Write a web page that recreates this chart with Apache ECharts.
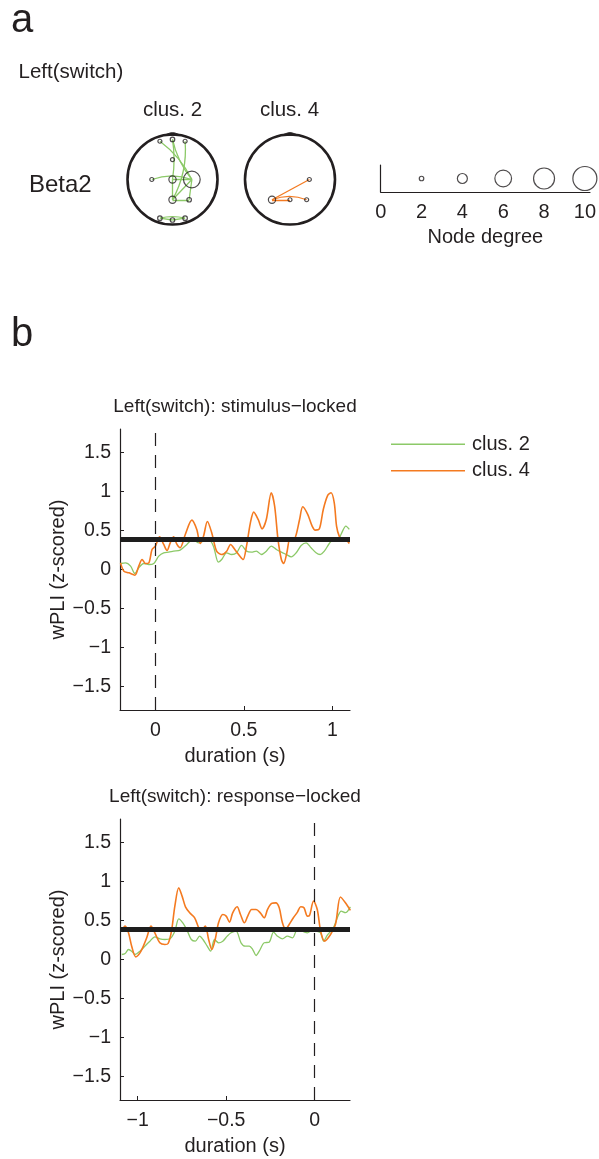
<!DOCTYPE html>
<html>
<head>
<meta charset="utf-8">
<script src="https://cdn.jsdelivr.net/npm/echarts@6/dist/echarts.min.js"></script>
<style>
html,body{margin:0;padding:0;background:#fff;}
#chart{width:599px;height:1159px;}
</style>
</head>
<body>
<div id="chart"></div>
<script>
// ---------------- DATA ----------------
const seriesNames = ['clus. 2', 'clus. 4'];
const threshold = 0.385;

// stimulus-locked: [time (s), wPLI z]
const stimClus2 = [[-0.197,0.077],[-0.169,0.085],[-0.140,0.043],[-0.116,-0.051],[-0.094,0.021],[-0.066,0.077],[-0.037,0.064],[-0.009,0.077],[0.019,0.171],[0.047,0.214],[0.075,0.222],[0.103,0.235],[0.140,0.248],[0.178,0.321],[0.215,0.393],[0.243,0.342],[0.272,0.363],[0.300,0.385],[0.328,0.299],[0.356,0.094],[0.375,0.128],[0.403,0.214],[0.431,0.192],[0.459,0.214],[0.487,0.308],[0.515,0.235],[0.543,0.222],[0.571,0.235],[0.599,0.192],[0.627,0.235],[0.655,0.299],[0.684,0.256],[0.712,0.222],[0.740,0.192],[0.768,0.162],[0.796,0.214],[0.824,0.308],[0.852,0.342],[0.880,0.278],[0.908,0.214],[0.931,0.192],[0.955,0.235],[0.983,0.333],[1.011,0.393],[1.030,0.363],[1.049,0.449],[1.077,0.556],[1.096,0.513]];
const stimClus4 = [[-0.197,0.085],[-0.178,-0.021],[-0.150,-0.043],[-0.116,-0.073],[-0.094,0.043],[-0.075,0.128],[-0.056,0.077],[-0.037,0.085],[-0.019,0.256],[0,0.299],[0.024,0.419],[0.047,0.321],[0.066,0.244],[0.084,0.342],[0.103,0.419],[0.122,0.321],[0.140,0.278],[0.169,0.449],[0.206,0.632],[0.234,0.513],[0.253,0.333],[0.272,0.427],[0.294,0.615],[0.318,0.474],[0.346,0.235],[0.375,0.192],[0.403,0.235],[0.425,0.321],[0.449,0.256],[0.478,0.171],[0.496,0.128],[0.515,0.299],[0.537,0.598],[0.556,0.735],[0.581,0.641],[0.603,0.521],[0.627,0.641],[0.655,0.983],[0.674,0.812],[0.693,0.385],[0.712,0.128],[0.725,0.077],[0.743,0.214],[0.762,0.406],[0.781,0.376],[0.796,0.449],[0.815,0.641],[0.833,0.803],[0.861,0.705],[0.886,0.556],[0.904,0.504],[0.927,0.521],[0.949,0.769],[0.974,0.949],[0.993,0.983],[1.011,0.855],[1.024,0.556],[1.039,0.427],[1.058,0.363],[1.077,0.376],[1.096,0.333]];

// response-locked: [time (s), wPLI z]
const respClus2 = [[-1.090,0.064],[-1.071,0.077],[-1.052,0.128],[-1.034,0.107],[-1.015,0.064],[-0.987,0.107],[-0.959,0.171],[-0.931,0.235],[-0.903,0.291],[-0.875,0.265],[-0.846,0.256],[-0.818,0.265],[-0.790,0.363],[-0.768,0.521],[-0.743,0.462],[-0.719,0.363],[-0.697,0.256],[-0.674,0.235],[-0.650,0.299],[-0.631,0.256],[-0.607,0.171],[-0.588,0.107],[-0.566,0.256],[-0.543,0.214],[-0.519,0.235],[-0.494,0.299],[-0.472,0.342],[-0.444,0.363],[-0.416,0.214],[-0.393,0.171],[-0.369,0.171],[-0.350,0.128],[-0.331,0.051],[-0.313,0.107],[-0.285,0.214],[-0.257,0.222],[-0.232,0.350],[-0.210,0.299],[-0.182,0.265],[-0.154,0.299],[-0.125,0.278],[-0.094,0.406],[-0.069,0.363],[-0.041,0.342],[-0.013,0.376],[0.015,0.360],[0.034,0.340],[0.051,0.235],[0.071,0.310],[0.090,0.360],[0.109,0.420],[0.131,0.550],[0.150,0.620],[0.174,0.600],[0.202,0.675]];
const respClus4 = [[-1.090,0.363],[-1.071,0.427],[-1.052,0.342],[-1.034,0.171],[-1.011,0.034],[-0.987,0.085],[-0.968,0.171],[-0.949,0.278],[-0.925,0.427],[-0.903,0.342],[-0.875,0.214],[-0.846,0.192],[-0.828,0.205],[-0.809,0.363],[-0.790,0.684],[-0.768,0.919],[-0.749,0.812],[-0.730,0.675],[-0.706,0.598],[-0.678,0.534],[-0.655,0.406],[-0.640,0.376],[-0.618,0.427],[-0.599,0.256],[-0.581,0.128],[-0.562,0.256],[-0.543,0.470],[-0.519,0.577],[-0.500,0.556],[-0.481,0.479],[-0.463,0.598],[-0.438,0.675],[-0.419,0.577],[-0.397,0.470],[-0.378,0.556],[-0.356,0.641],[-0.331,0.641],[-0.307,0.598],[-0.285,0.534],[-0.266,0.641],[-0.243,0.718],[-0.219,0.726],[-0.200,0.662],[-0.182,0.470],[-0.163,0.385],[-0.144,0.449],[-0.120,0.534],[-0.097,0.607],[-0.079,0.675],[-0.060,0.662],[-0.041,0.556],[-0.030,0.560],[-0.006,0.750],[0.015,0.640],[0.034,0.363],[0.056,0.235],[0.090,0.320],[0.118,0.450],[0.146,0.800],[0.174,0.727],[0.202,0.630]];

// tick labels
const stimXTicks = [0, 0.5, 1];
const respXTicks = [-1, -0.5, 0];
const yTicks = [-1.5, -1, -0.5, 0, 0.5, 1, 1.5];
const degreeTicks = [0, 2, 4, 6, 8, 10];
const legendDegrees = [2, 4, 6, 8, 10];

// electrode montage (unit head, nose up)
const electrodes = {
  Fp1:[-0.28,0.85], Fpz:[0,0.89], Fp2:[0.28,0.85], Fz:[0,0.44],
  C3:[-0.46,0], Cz:[0,0], C4:[0.43,0],
  P3:[-0.40,-0.45], Pz:[0,-0.45], P4:[0.37,-0.45],
  O1:[-0.28,-0.86], Oz:[0,-0.90], O2:[0.28,-0.86]
};
// node degrees per cluster
const clus2Degree = {Fp1:1, Fpz:2, Fp2:1, Fz:1, C3:1, Cz:3, C4:6, Pz:3, P4:2, O1:2, Oz:2, O2:2};
const clus4Degree = {P3:3, Pz:1, P4:1, C4:1};
// edges
const clus2Edges = [['Fp1','C4'],['Fpz','C4'],['Fp2','Pz'],['Fpz','Cz'],['C3','C4'],['Cz','C4'],['Pz','C4'],['Pz','P4'],['P4','C4'],['Cz','Pz'],['O1','O2'],['O1','Oz'],['Oz','O2']];
const clus4Edges = [['P3','C4'],['P3','Pz'],['P3','P4']];

// ---------------- STYLE ----------------
const FONT = '"Liberation Sans", Arial, Helvetica, sans-serif';
const TXT = '#231f20';
const GREEN = '#8cc968';
const ORANGE = '#f47a20';
const edgeCurve = {'Fp1-C4':0.12,'Fpz-C4':-0.12,'Fp2-Pz':0.15,'Fpz-Cz':0.08,'C3-C4':0.18,'O1-O2':0.12,'P3-P4':0.2};

function degreeToSize(d){
  const dk=[0,1,2,4,6,8,10], px=[0,4,4.5,10,16.7,21,24];
  for(let i=1;i<dk.length;i++){ if(d<=dk[i]){ const t=(d-dk[i-1])/(dk[i]-dk[i-1]); return px[i-1]+t*(px[i]-px[i-1]); } }
  return px[px.length-1];
}
const fmt = v => String(v).replace('-', '\u2212');

function mainX(gi, min, max, ticks){
  return {
    type:'value', gridIndex:gi, min, max,
    axisLine:{show:true, onZero:false, lineStyle:{color:TXT, width:1.2}},
    axisTick:{show:true, inside:true, length:4, customValues:ticks, lineStyle:{color:TXT}},
    axisLabel:{customValues:ticks, formatter:fmt, fontSize:19.5, fontFamily:FONT, color:TXT, margin:11},
    splitLine:{show:false},
    name:'duration (s)', nameLocation:'middle', nameGap:36,
    nameTextStyle:{fontSize:20, fontFamily:FONT, color:TXT}
  };
}
function mainY(gi){
  return {
    type:'value', gridIndex:gi, min:-1.8, max:1.8,
    axisLine:{show:true, onZero:false, lineStyle:{color:TXT, width:1.2}},
    axisTick:{show:true, inside:true, length:4, customValues:yTicks, lineStyle:{color:TXT}},
    axisLabel:{customValues:yTicks, formatter:fmt, fontSize:19.5, fontFamily:FONT, color:TXT, margin:9},
    splitLine:{show:false},
    name:'wPLI (z-scored)', nameLocation:'middle', nameGap:50, nameRotate:90,
    nameTextStyle:{fontSize:20, fontFamily:FONT, color:TXT}
  };
}
function hiddenAxis(gi, min, max){
  return {type:'value', gridIndex:gi, min, max, show:false, splitLine:{show:false}};
}
function refSeries(gi){
  return {
    type:'line', xAxisIndex:gi, yAxisIndex:gi, data:[], silent:true, z:1,
    markLine:{
      silent:true, symbol:'none', animation:false, label:{show:false},
      data:[
        {xAxis:0, lineStyle:{type:[13,9], color:'#231f20', width:1.2}},
        {yAxis:threshold, lineStyle:{type:'solid', color:'#1e1e1e', width:5}}
      ]
    }
  };
}
function dataSeries(gi, name, data, color, width, z){
  return {type:'line', name, xAxisIndex:gi, yAxisIndex:gi, data, symbol:'none', showSymbol:false,
    smooth:0.3, lineStyle:{color, width}, itemStyle:{color}, z, silent:true};
}
function headOutline(gi){
  return {
    type:'custom', xAxisIndex:gi, yAxisIndex:gi, data:[[0,0]], silent:true, z:2,
    renderItem:(params, api)=>{
      const c = api.coord([0,0]);
      const r = api.size([1,1])[0];
      const nose = [api.coord([-0.15,0.99]), api.coord([-0.05,1.035]), api.coord([0,1.04]), api.coord([0.05,1.035]), api.coord([0.15,0.99])];
      return {type:'group', children:[
        {type:'polygon', shape:{points:nose, smooth:0.3}, style:{fill:'#231f20', stroke:'#231f20', lineWidth:1}},
        {type:'circle', shape:{cx:c[0], cy:c[1], r}, style:{fill:'none', stroke:'#231f20', lineWidth:2.6}}
      ]};
    }
  };
}
function edgeSeries(gi, edges, color){
  return {
    type:'lines', coordinateSystem:'cartesian2d', xAxisIndex:gi, yAxisIndex:gi, silent:true, z:3,
    lineStyle:{color, width:1.3, opacity:1},
    data: edges.map(([a,b]) => ({coords:[electrodes[a], electrodes[b]], lineStyle:{curveness: edgeCurve[a+'-'+b] || 0}}))
  };
}
function nodeSeries(gi, degMap){
  return {
    type:'scatter', xAxisIndex:gi, yAxisIndex:gi, silent:true, z:4,
    data: Object.keys(degMap).map(k => [electrodes[k][0], electrodes[k][1], degMap[k]]),
    symbol:'circle', symbolSize:(v)=>degreeToSize(v[2]),
    itemStyle:{color:'rgba(0,0,0,0)', borderColor:'#231f20', borderWidth:1.2}
  };
}

const textStyle = (t, x, y, size, align) => ({
  type:'text', x, y, silent:true,
  style:{text:t, fill:TXT, fontSize:size, fontFamily:FONT, align:align||'left', verticalAlign:'middle'}
});

const option = {
  animation:false,
  backgroundColor:'#ffffff',
  grid:[
    {left:120, top:429, width:230, height:281},   // 0 stimulus-locked
    {left:120, top:819, width:230, height:281},   // 1 response-locked
    {left:118.5, top:125.5, width:108, height:108}, // 2 head clus. 2
    {left:236, top:125.5, width:108, height:108},   // 3 head clus. 4
    {left:380.7, top:165, width:209.4, height:27}   // 4 node-degree scale
  ],
  xAxis:[
    mainX(0, -0.2, 1.1, stimXTicks),
    mainX(1, -1.1, 0.2, respXTicks),
    hiddenAxis(2, -1.2, 1.2),
    hiddenAxis(3, -1.2, 1.2),
    {type:'value', gridIndex:4, min:0, max:10.25,
     axisLine:{show:true, onZero:false, lineStyle:{color:TXT, width:1.2}},
     axisTick:{show:false},
     axisLabel:{customValues:degreeTicks, fontSize:20, fontFamily:FONT, color:TXT, margin:10},
     splitLine:{show:false},
     name:'Node degree', nameLocation:'middle', nameGap:35,
     nameTextStyle:{fontSize:20, fontFamily:FONT, color:TXT}}
  ],
  yAxis:[
    mainY(0), mainY(1),
    hiddenAxis(2, -1.2, 1.2),
    hiddenAxis(3, -1.2, 1.2),
    {type:'value', gridIndex:4, min:0, max:1,
     axisLine:{show:true, onZero:false, lineStyle:{color:TXT, width:1.2}},
     axisTick:{show:false}, axisLabel:{show:false}, splitLine:{show:false}}
  ],
  legend:{
    data:seriesNames.map(n => ({name:n, icon:'rect'})), orient:'vertical', left:386, top:429.25,
    itemWidth:74, itemHeight:1.5, itemGap:6.5, selectedMode:false,
    textStyle:{fontSize:20, fontFamily:FONT, color:TXT, padding:[0,0,0,2]}
  },
  graphic:[
    textStyle('a', 11, 21, 40),
    textStyle('b', 11, 335, 40),
    textStyle('Left(switch)', 18.5, 72, 20.5),
    textStyle('clus. 2', 172.5, 110.5, 20.5, 'center'),
    textStyle('clus. 4', 289.5, 110.5, 20.5, 'center'),
    textStyle('Beta2', 29, 185, 24),
    textStyle('Left(switch): stimulus\u2212locked', 235, 407, 19, 'center'),
    textStyle('Left(switch): response\u2212locked', 235, 797, 19, 'center')
  ],
  series:[
    refSeries(0),
    dataSeries(0, 'clus. 2', stimClus2, GREEN, 1.3, 3),
    dataSeries(0, 'clus. 4', stimClus4, ORANGE, 1.6, 4),
    refSeries(1),
    dataSeries(1, 'clus. 2', respClus2, GREEN, 1.3, 3),
    dataSeries(1, 'clus. 4', respClus4, ORANGE, 1.6, 4),
    headOutline(2), edgeSeries(2, clus2Edges, GREEN), nodeSeries(2, clus2Degree),
    headOutline(3), edgeSeries(3, clus4Edges, ORANGE), nodeSeries(3, clus4Degree),
    {type:'scatter', xAxisIndex:4, yAxisIndex:4, silent:true,
     data: legendDegrees.map(d => [d, 0.5, d]),
     symbol:'circle', symbolSize:(v)=>degreeToSize(v[2]),
     itemStyle:{color:'rgba(0,0,0,0)', borderColor:'#231f20', borderWidth:1.2}}
  ]
};

const chart = echarts.init(document.getElementById('chart'), null, {renderer:'canvas'});
chart.setOption(option);
</script>
</body>
</html>
